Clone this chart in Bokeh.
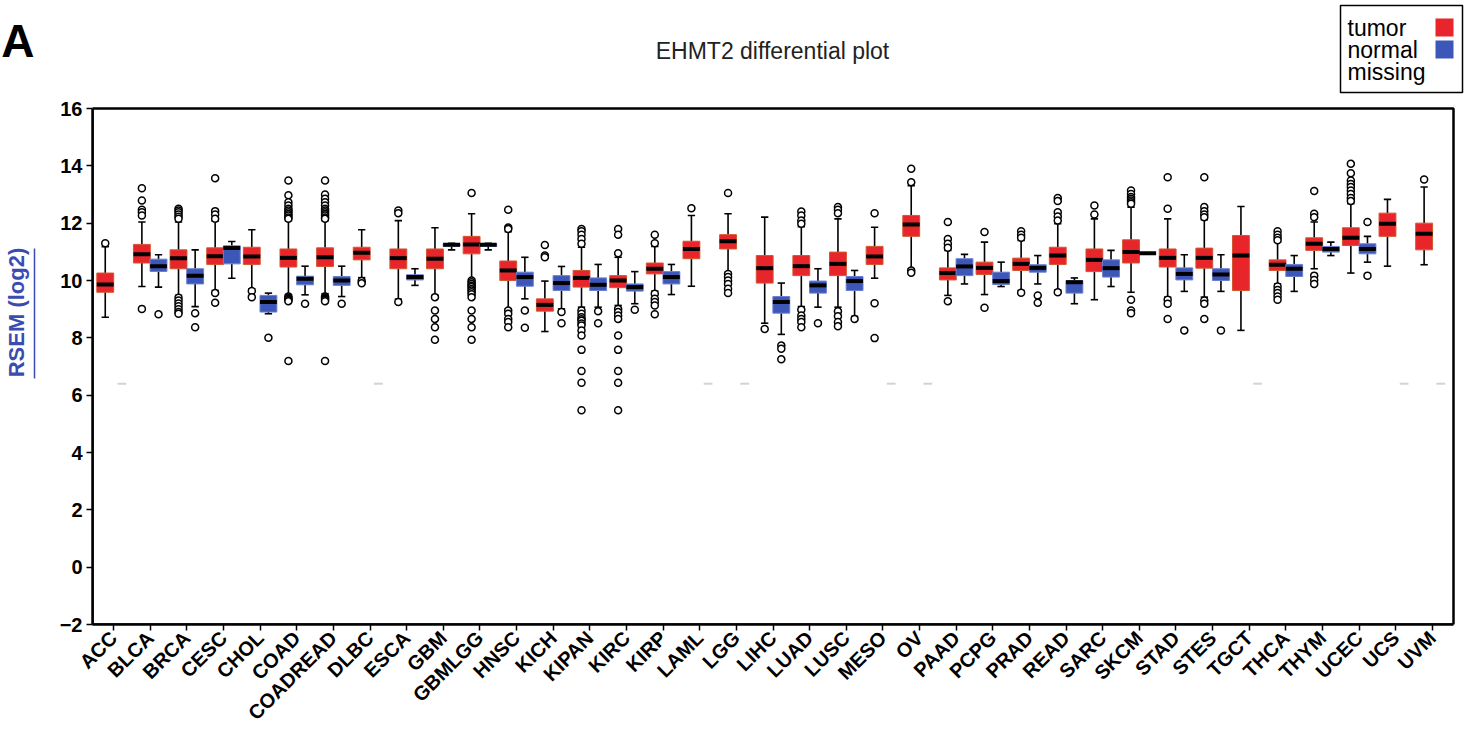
from math import pi
from bokeh.plotting import figure
from bokeh.models import Range1d, FixedTicker, Label, BoxAnnotation, ColumnDataSource, LinearAxis
from bokeh.embed import file_html
from bokeh.resources import INLINE

categories = ["ACC", "BLCA", "BRCA", "CESC", "CHOL", "COAD", "COADREAD", "DLBC", "ESCA", "GBM",
              "GBMLGG", "HNSC", "KICH", "KIPAN", "KIRC", "KIRP", "LAML", "LGG", "LIHC", "LUAD",
              "LUSC", "MESO", "OV", "PAAD", "PCPG", "PRAD", "READ", "SARC", "SKCM", "STAD",
              "STES", "TGCT", "THCA", "THYM", "UCEC", "UCS", "UVM"]

# tumor box statistics: lower whisker, q1, median, q3, upper whisker
t_lo  = [8.72, 9.79, 9.48, 9.65, 9.71, 9.51, 9.54, 10.10, 9.35, 9.48,
         10.06, 9.01, 8.22, 9.07, 9.13, 9.63, 9.80, 10.29, 8.51, 9.09,
         9.07, 10.08, 10.41, 9.48, 9.51, 9.65, 9.67, 9.33, 9.59, 9.42,
         9.42, 8.26, 9.88, 10.41, 10.26, 10.50, 10.55]
t_q1  = [9.59, 10.61, 10.41, 10.56, 10.56, 10.47, 10.49, 10.72, 10.41, 10.41,
         10.93, 10.00, 8.93, 9.77, 9.75, 10.23, 10.76, 11.10, 9.91, 10.17,
         10.17, 10.56, 11.54, 10.02, 10.21, 10.35, 10.56, 10.31, 10.61, 10.47,
         10.43, 9.65, 10.35, 11.05, 11.22, 11.54, 11.07]
t_med = [9.86, 10.92, 10.78, 10.85, 10.84, 10.79, 10.81, 10.97, 10.78, 10.76,
         11.26, 10.35, 9.15, 10.09, 10.00, 10.41, 11.10, 11.37, 10.43, 10.50,
         10.58, 10.84, 11.95, 10.26, 10.44, 10.58, 10.87, 10.72, 10.99, 10.79,
         10.79, 10.87, 10.55, 11.28, 11.49, 11.98, 11.63]
t_q3  = [10.26, 11.26, 11.07, 11.14, 11.16, 11.10, 11.14, 11.16, 11.10, 11.10,
         11.54, 10.68, 9.36, 10.35, 10.17, 10.61, 11.37, 11.60, 10.87, 10.87,
         10.99, 11.19, 12.27, 10.44, 10.64, 10.78, 11.16, 11.10, 11.42, 11.10,
         11.13, 11.57, 10.72, 11.49, 11.84, 12.35, 12.00]
t_hi  = [11.18, 12.04, 12.04, 12.07, 11.77, 12.09, 12.09, 11.77, 12.09, 11.84,
         12.33, 11.70, 9.98, 11.16, 10.81, 11.19, 12.27, 12.33, 12.21, 11.88,
         12.15, 11.86, 13.31, 11.05, 11.34, 11.40, 11.98, 12.15, 12.56, 12.15,
         12.12, 12.58, 11.34, 12.04, 12.68, 12.83, 13.26]
t_out = [
    [11.30],
    [13.22, 12.79, 12.47, 12.38, 12.27, 9.01],
    [12.50, 12.44, 12.38, 12.30, 12.22, 12.15, 9.40, 9.30, 9.20, 9.10, 9.00, 8.90, 8.84],
    [13.57, 12.42, 12.30, 12.15, 9.56, 9.22],
    [9.63, 9.42],
    [13.49, 12.97, 12.73, 12.62, 12.50, 12.44, 12.38, 12.32, 12.27, 12.20, 12.15, 9.44, 9.40, 9.36, 9.32, 9.28, 7.19],
    [13.49, 13.00, 12.85, 12.73, 12.62, 12.50, 12.44, 12.38, 12.32, 12.27, 12.20, 12.15, 9.44, 9.40, 9.36, 9.32, 9.28, 7.19],
    [9.98, 9.90],
    [12.44, 12.35, 9.25],
    [9.42, 8.95, 8.66, 8.37, 7.93],
    [13.05, 10.00, 9.94, 9.88, 9.82, 9.77, 9.70, 9.65, 9.59, 9.52, 9.42, 8.95, 8.66, 8.37, 7.93],
    [12.47, 11.85, 11.80, 8.95, 8.84, 8.66, 8.55, 8.37],
    [11.24, 10.87, 10.81],
    [11.80, 11.72, 11.60, 11.45, 11.28, 8.95, 8.84, 8.72, 8.65, 8.60, 8.50, 8.43, 8.26, 8.08, 7.58, 6.84, 6.43, 5.47],
    [11.80, 11.60, 10.95, 9.01, 8.90, 8.78, 8.66, 8.08, 7.58, 6.84, 6.43, 5.47],
    [11.60, 11.30, 9.54, 9.36, 9.25, 9.13, 8.82],
    [12.52],
    [13.05, 10.23, 10.12, 10.00, 9.88, 9.71, 9.56],
    [8.31],
    [12.41, 12.27, 12.09, 11.98, 8.98, 8.78, 8.66, 8.55, 8.37],
    [12.56, 12.47, 12.35, 8.93, 8.75, 8.55, 8.40],
    [12.35, 9.21, 7.99],
    [13.90, 13.43, 10.35, 10.27],
    [12.04, 11.45, 11.28, 11.14, 9.28],
    [11.69, 9.05],
    [11.72, 11.60, 11.49, 9.57],
    [12.88, 12.77, 12.38, 12.23, 12.09, 9.59],
    [12.62, 12.30],
    [13.14, 13.02, 12.91, 12.85, 12.79, 12.73, 12.68, 9.33, 8.95, 8.86],
    [13.60, 12.50, 9.33, 9.19, 8.66],
    [13.60, 12.56, 12.42, 12.30, 12.21, 9.30, 9.19, 8.66],
    [],
    [11.72, 11.60, 11.49, 11.40, 9.79, 9.67, 9.56, 9.44, 9.33],
    [13.12, 12.33, 12.21, 10.17, 10.02, 9.88],
    [14.07, 13.74, 13.49, 13.37, 13.26, 13.14, 13.02, 12.88, 12.77],
    [],
    [13.52],
]

# normal box statistics (None = missing)
n_lo  = [None, 9.77, 9.09, 10.08, 8.84, 9.50, 9.44, None, 9.83, 11.07,
         11.07, 9.36, 9.01, 9.07, 9.19, 9.51, None, None, 8.12, 9.07,
         8.75, None, None, 9.88, 9.79, 9.88, 9.19, 9.79, 10.95, 9.62,
         9.62, None, 9.62, 10.87, 10.64, None, None]
n_q1  = [None, 10.315, 9.88, 10.58, 8.90, 9.85, 9.83, None, 10.02, 11.19,
         11.19, 9.80, 9.65, 9.65, 9.63, 9.88, None, None, 8.86, 9.56,
         9.65, None, None, 10.17, 9.86, 10.29, 9.56, 10.12, 10.95, 10.02,
         10.00, None, 10.14, 10.99, 10.93, None, None]
n_med = [None, 10.50, 10.17, 11.13, 9.25, 10.06, 10.00, None, 10.12, 11.25,
         11.25, 10.12, 9.91, 9.85, 9.77, 10.12, None, None, 9.25, 9.83,
         9.98, None, None, 10.49, 9.98, 10.44, 9.94, 10.43, 10.95, 10.23,
         10.21, None, 10.41, 11.10, 11.10, None, None]
n_q3  = [None, 10.745, 10.41, 11.21, 9.48, 10.15, 10.14, None, 10.20, 11.28,
         11.28, 10.29, 10.17, 10.09, 9.88, 10.31, None, None, 9.44, 9.98,
         10.14, None, None, 10.76, 10.29, 10.55, 10.00, 10.72, 10.95, 10.44,
         10.41, None, 10.56, 11.19, 11.28, None, None]
n_hi  = [None, 10.90, 11.07, 11.36, 9.56, 10.50, 10.50, None, 10.41, 11.30,
         11.30, 10.81, 10.49, 10.56, 10.31, 10.56, None, None, 9.91, 10.41,
         10.35, None, None, 10.91, 10.64, 10.87, 10.09, 11.05, 10.95, 10.90,
         10.90, None, 10.87, 11.34, 11.54, None, None]
n_out = [[], [8.82], [8.86, 8.37], [], [8.00], [9.19], [9.19], [], [], [],
         [], [8.95, 8.35], [8.90, 8.51], [8.93, 8.51], [8.98], [], [], [], [7.73, 7.62, 7.25], [8.51],
         [8.66], [], [], [], [], [9.48, 9.22], [], [], [], [8.26],
         [8.26], [], [], [], [12.04, 10.17], [], []]
missing_level = 6.4

y_ticks = [-2, 0, 2, 4, 6, 8, 10, 12, 14, 16]
legend_labels = ["tumor", "normal", "missing"]
title_text = "EHMT2 differential plot"
y_label = "RSEM (log2)"
panel_letter = "A"

RED = "#e8252b"
RED_EDGE = "#d2562f"
BLUE = "#3c57b8"
BLUE_EDGE = "#6a7fd0"
LABEL_BLUE = "#3b4cb0"
OFF = 0.227
BW = 0.46

# ---- geometry (canvas pixels) ----
W, H = 1469, 735
FL, FB = 92, 624            # frame left / bottom
BOX_T, BOX_R = 108, 1453    # top / right edge of the drawn plot box
X_LO, X_HI = -0.575, 36.575
Y_LO, Y_HI = -2, 16
kx = (BOX_R - FL) / (X_HI - X_LO)
ky = (FB - BOX_T) / (Y_HI - Y_LO)

def xd(px):
    return X_LO + (px - FL) / kx

def yd(py):
    return Y_LO + (FB - py) / ky

p = figure(width=W, height=H, output_backend="svg", toolbar_location=None,
           x_range=Range1d(X_LO, xd(W)), y_range=Range1d(Y_LO, yd(0)),
           min_border_left=FL, min_border_right=0, min_border_top=0,
           min_border_bottom=H - FB)
p.title.visible = False
p.background_fill_color = "white"
p.border_fill_color = "white"
p.outline_line_color = None
p.xgrid.visible = False
p.ygrid.visible = False

def add_boxes(xs, lo, q1, med, q3, hi, outs, fill, edge):
    src = ColumnDataSource(dict(
        x=xs, lo=lo, q1=q1, med=med, q3=q3, hi=hi,
        xl=[x - 0.1 for x in xs], xr=[x + 0.1 for x in xs],
        ml=[x - BW / 2 for x in xs], mr=[x + BW / 2 for x in xs]))
    p.segment(x0="x", y0="q3", x1="x", y1="hi", source=src, line_color="black", line_width=1.6)
    p.segment(x0="x", y0="q1", x1="x", y1="lo", source=src, line_color="black", line_width=1.6)
    p.segment(x0="xl", y0="hi", x1="xr", y1="hi", source=src, line_color="black", line_width=1.6)
    p.segment(x0="xl", y0="lo", x1="xr", y1="lo", source=src, line_color="black", line_width=1.6)
    p.vbar(x="x", width=BW, bottom="q1", top="q3", source=src, fill_color=fill,
           line_color=edge, line_width=1)
    p.segment(x0="ml", y0="med", x1="mr", y1="med", source=src, line_color="black", line_width=4)
    ox, oy = [], []
    for x, o in zip(xs, outs):
        ox += [x] * len(o)
        oy += o
    p.scatter(ox, oy, size=7, marker="circle", fill_color="white", line_color="black", line_width=1.5)

idx = list(range(len(categories)))
add_boxes([i - OFF for i in idx], t_lo, t_q1, t_med, t_q3, t_hi, t_out, RED, RED_EDGE)

present = [i for i in idx if n_med[i] is not None]
add_boxes([i + OFF for i in present], [n_lo[i] for i in present], [n_q1[i] for i in present],
          [n_med[i] for i in present], [n_q3[i] for i in present], [n_hi[i] for i in present],
          [n_out[i] for i in present], BLUE, BLUE_EDGE)

miss = [i for i in idx if n_med[i] is None]
p.segment(x0=[i + OFF - 0.12 for i in miss], x1=[i + OFF + 0.12 for i in miss],
          y0=[missing_level] * len(miss), y1=[missing_level] * len(miss),
          line_color="#d9d2cc", line_width=2)

# plot box outline
p.add_layout(BoxAnnotation(left=X_LO, right=X_HI, bottom=Y_LO, top=Y_HI,
                           fill_color=None, fill_alpha=0, line_color="black",
                           line_alpha=1, line_width=2.5))

# main axes
p.xaxis.ticker = FixedTicker(ticks=idx)
p.xaxis.major_label_overrides = {i: c for i, c in enumerate(categories)}
p.xaxis.major_label_orientation = pi / 4
p.xaxis.bounds = (X_LO, X_HI)
p.yaxis.ticker = FixedTicker(ticks=y_ticks)
p.yaxis.bounds = (Y_LO, Y_HI)
for ax in (p.xaxis, p.yaxis):
    ax.axis_line_color = "black"
    ax.axis_line_width = 2.5
    ax.major_tick_line_color = "black"
    ax.major_tick_line_width = 1.5
    ax.major_tick_out = 6
    ax.major_tick_in = 0
    ax.minor_tick_line_color = None
    ax.minor_tick_out = 0
    ax.minor_tick_in = 0
    ax.major_label_text_font = "Liberation Sans"
    ax.major_label_text_font_style = "bold"
    ax.major_label_text_color = "black"
p.xaxis.major_label_text_font_size = "20px"
p.yaxis.major_label_text_font_size = "20px"
p.xaxis.major_label_standoff = 4
p.yaxis.major_label_standoff = 4

def bare_axis(**kw):
    base = dict(ticker=FixedTicker(ticks=[]), major_label_standoff=0,
                major_tick_out=0, major_tick_in=0, minor_tick_out=0, minor_tick_in=0,
                major_tick_line_color=None, minor_tick_line_color=None,
                axis_line_color=None)
    base.update(kw)
    return LinearAxis(**base)

# spacer slot (one invisible tick) so that the next axes sit at x ~ 33 px
p.add_layout(bare_axis(ticker=FixedTicker(ticks=[Y_LO]), bounds=(Y_LO, Y_HI),
                       major_tick_out=22, major_label_overrides={Y_LO: ""},
                       major_label_text_font_size="1px"), "left")
# underline of the y-axis title
p.add_layout(bare_axis(bounds=(yd(378), yd(248)), axis_line_color=LABEL_BLUE,
                       axis_line_width=1.5), "left")
# y-axis title and the panel letter
a_val = yd(40)
p.add_layout(bare_axis(ticker=FixedTicker(ticks=[a_val]), bounds=(Y_LO, yd(5)),
                       major_label_overrides={a_val: panel_letter},
                       major_label_text_font="Liberation Sans",
                       major_label_text_font_style="bold",
                       major_label_text_font_size="46px",
                       major_label_text_color="black", major_label_standoff=0,
                       axis_label=y_label, axis_label_text_font="Liberation Sans",
                       axis_label_text_font_style="bold", axis_label_text_font_size="22px",
                       axis_label_text_color=LABEL_BLUE, axis_label_standoff=-31), "left")

def sx(cx):
    return cx - FL

def sy(cy):
    return FB - cy

# title
p.add_layout(Label(x=sx(772), y=sy(50), x_units="screen", y_units="screen",
                   text=title_text, text_font="Liberation Sans",
                   text_font_size="23px", text_color="#222222",
                   text_align="center", text_baseline="middle"))

# legend
p.add_layout(BoxAnnotation(left=sx(1340), right=sx(1462), top=sy(5), bottom=sy(92),
                           left_units="screen", right_units="screen",
                           top_units="screen", bottom_units="screen",
                           fill_color="white", fill_alpha=1, line_color="black",
                           line_alpha=1, line_width=1.5))
for lab, cy in zip(legend_labels, [27, 49, 71]):
    p.add_layout(Label(x=sx(1347), y=sy(cy), x_units="screen", y_units="screen",
                       text=lab, text_font="Liberation Sans", text_font_size="23px",
                       text_color="black", text_align="left", text_baseline="middle"))
for col, (t, b) in zip([RED, BLUE], [(18, 36), (40, 58)]):
    p.add_layout(BoxAnnotation(left=sx(1435), right=sx(1453), top=sy(t), bottom=sy(b),
                               left_units="screen", right_units="screen",
                               top_units="screen", bottom_units="screen",
                               fill_color=col, fill_alpha=1, line_color=None, line_alpha=1))

open("out.html", "w").write(file_html(p, INLINE))
